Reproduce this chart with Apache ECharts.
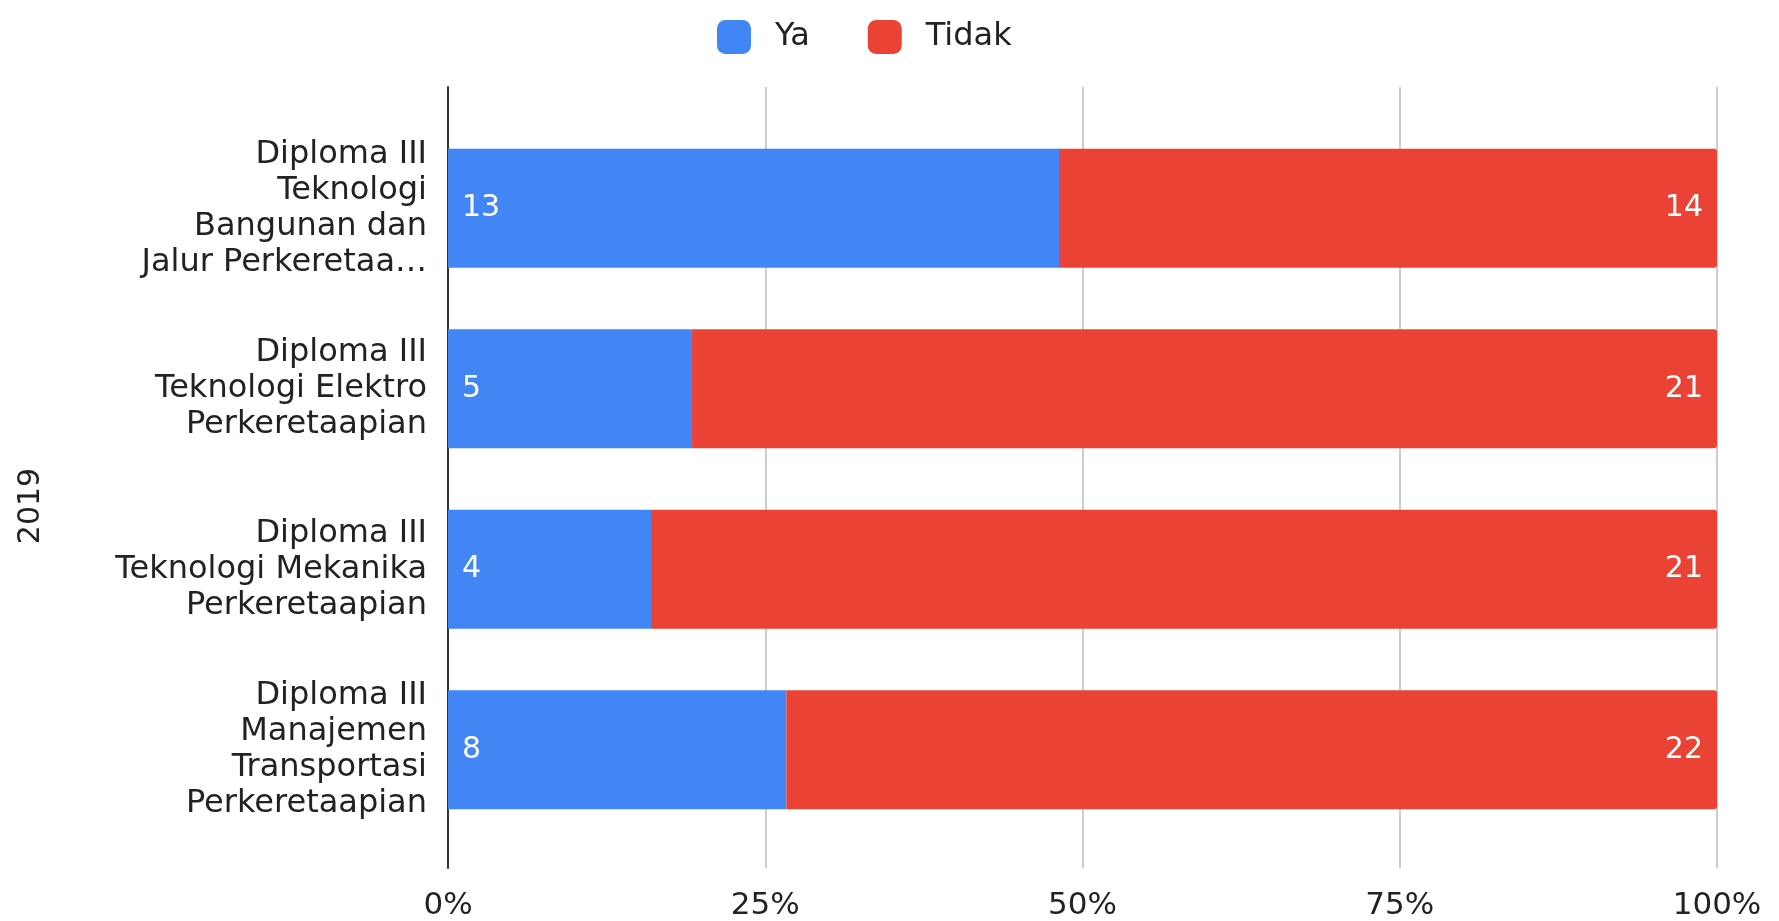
<!DOCTYPE html>
<html>
<head>
<meta charset="utf-8">
<script src="https://cdn.jsdelivr.net/npm/echarts@6/dist/echarts.min.js"></script>
<style>
  html, body { margin: 0; padding: 0; background: #fff; }
  #main { width: 1779px; height: 921px; }
</style>
</head>
<body>
<div id="main"></div>
<script>
// kategori (label seperti di gambar, sudah dibungkus)
var categories = [
    "Diploma III\nTeknologi\nBangunan dan\nJalur Perkeretaa\u2026",
    "Diploma III\nTeknologi Elektro\nPerkeretaapian",
    "Diploma III\nTeknologi Mekanika\nPerkeretaapian",
    "Diploma III\nManajemen\nTransportasi\nPerkeretaapian"
];
var ya = [13, 5, 4, 8];
var tidak = [14, 21, 21, 22];
var tickLabels = [0, 25, 50, 75, 100];
var axisTitle = "2019";

var font = "'DejaVu Sans', Arial, sans-serif";

// persen per baris (stacked 100%)
var yaPct = [], tidakPct = [];
for (var i = 0; i < ya.length; i++) {
    var total = ya[i] + tidak[i];
    yaPct.push(ya[i] / total * 100);
    tidakPct.push(tidak[i] / total * 100);
}

var chart = echarts.init(document.getElementById('main'));
var option = {
    animation: false,
    textStyle: { fontFamily: font },
    legend: {
        left: 712,
        top: 15,
        itemWidth: 34,
        itemHeight: 34,
        itemGap: 58,
        icon: 'roundRect',
        textStyle: { fontFamily: font, fontSize: 32, color: '#222', padding: [0, 0, 0, 19] },
        data: ['Ya', 'Tidak']
    },
    grid: [
        // grid untuk garis sumbu dan gridline
        { left: 448, right: 62, top: 87, bottom: 51 },
        // grid untuk batang
        { left: 448, right: 62, top: 118, bottom: 81 }
    ],
    xAxis: [{
        gridIndex: 0,
        type: 'value',
        min: tickLabels[0],
        max: tickLabels[tickLabels.length - 1],
        interval: 25,
        axisLine: { show: false },
        axisTick: { show: false },
        axisLabel: { formatter: '{value}%', fontFamily: font, fontSize: 31, color: '#222', margin: 22 },
        splitLine: { lineStyle: { color: '#cccccc', width: 2 } }
    }, {
        gridIndex: 1,
        type: 'value',
        min: 0,
        max: 100,
        show: false
    }],
    yAxis: [{
        gridIndex: 0,
        type: 'value',
        min: 0,
        max: 1,
        axisLine: { show: true, lineStyle: { color: '#333', width: 2 } },
        axisTick: { show: false },
        axisLabel: { show: false },
        splitLine: { show: false }
    }, {
        gridIndex: 1,
        type: 'category',
        inverse: true,
        data: categories,
        axisLine: { show: false },
        axisTick: { show: false },
        axisLabel: {
            fontFamily: font,
            fontSize: 32,
            lineHeight: 36,
            color: '#222',
            margin: 21,
            align: 'right'
        }
    }],
    graphic: [{
        type: 'text',
        x: 31,
        y: 506,
        rotation: Math.PI / 2,
        style: {
            text: axisTitle,
            fontSize: 30,
            fontFamily: font,
            fill: '#222',
            align: 'center',
            verticalAlign: 'middle'
        }
    }],
    series: [{
        name: 'Ya',
        type: 'bar',
        stack: 'total',
        xAxisIndex: 1,
        yAxisIndex: 1,
        barCategoryGap: '34%',
        data: yaPct,
        itemStyle: { color: '#4285F4' },
        label: {
            show: true,
            position: 'insideLeft',
            distance: 14,
            fontFamily: font,
            fontSize: 30,
            color: '#fff',
            formatter: function (p) { return ya[p.dataIndex]; }
        }
    }, {
        name: 'Tidak',
        type: 'bar',
        stack: 'total',
        xAxisIndex: 1,
        yAxisIndex: 1,
        barCategoryGap: '34%',
        data: tidakPct,
        itemStyle: { color: '#EA4335', borderRadius: [0, 3, 3, 0] },
        label: {
            show: true,
            position: 'insideRight',
            distance: 14,
            fontFamily: font,
            fontSize: 30,
            color: '#fff',
            formatter: function (p) { return tidak[p.dataIndex]; }
        }
    }]
};
chart.setOption(option);

window.onresize = function () {
    if (chart != null && chart != undefined) {
        chart.resize();
    }
};
</script>
</body>
</html>
